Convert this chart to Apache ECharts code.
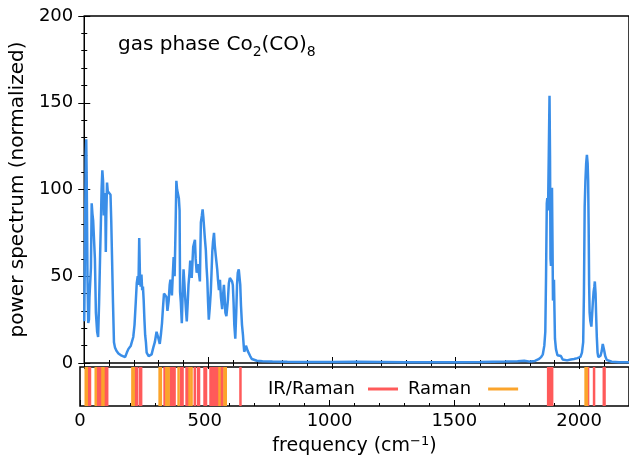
<!DOCTYPE html>
<html>
<head>
<meta charset="utf-8">
<script src="https://cdn.jsdelivr.net/npm/echarts@6/dist/echarts.min.js"></script>
<style>
  html, body { margin: 0; padding: 0; background: #fff; }
  #chart { width: 629px; height: 460px; }
</style>
</head>
<body>
<div id="chart"></div>
<script>
// power spectrum
const freq = [
  0, 3, 6, 8, 10, 13, 16, 19, 21, 24, 27, 30, 33, 36, 40, 43, 47, 52, 56, 60,
  64, 67, 70, 73, 76, 79, 82, 85, 87, 89, 92, 95, 98, 102, 106, 109, 112, 116, 120, 124,
  130, 138, 145, 151, 158, 165, 172, 178, 183, 188, 193, 198, 203, 208, 212, 216, 219, 222, 225, 228,
  231, 234, 237, 240, 243, 246, 249, 252, 256, 260, 266, 272, 279, 285, 292, 298, 305, 310, 314, 318,
  322, 327, 332, 336, 341, 345, 348, 352, 354, 358, 361, 365, 369, 372, 375, 378, 382, 385, 387, 390,
  394, 397, 401, 404, 407, 411, 414, 418, 421, 425, 428, 431, 434, 437, 440, 443, 447, 450, 454, 457,
  460, 463, 467, 469, 471, 475, 478, 481, 484, 487, 491, 494, 497, 500, 503, 507, 511, 514, 517, 520,
  524, 527, 531, 534, 537, 540, 544, 548, 552, 557, 560, 564, 567, 570, 574, 577, 580, 584, 588, 593,
  597, 600, 603, 606, 610, 614, 617, 620, 624, 627, 630, 633, 637, 641, 644, 646, 650, 653, 657, 660,
  665, 670, 677, 685, 697, 720, 760, 820, 900, 1000, 1100, 1200, 1300, 1400, 1500, 1600, 1700, 1750, 1777, 1800,
  1820, 1835, 1845, 1852, 1858, 1862, 1865, 1868, 1870, 1873, 1876, 1879, 1881, 1883, 1885, 1887, 1889, 1891, 1893, 1895,
  1897, 1899, 1901, 1905, 1911, 1918, 1925, 1932, 1939, 1950, 1965, 1978, 1992, 2004, 2010, 2015, 2018, 2021, 2024, 2027,
  2030, 2033, 2035, 2037, 2039, 2041, 2044, 2048, 2051, 2054, 2057, 2060, 2062, 2065, 2067, 2070, 2073, 2076, 2080, 2085,
  2090, 2094, 2097, 2100, 2104, 2110, 2116, 2130, 2160, 2200
]
const power = [
  24, 70, 120, 129, 105, 50, 23, 25, 38, 37, 55, 92, 86, 82, 83, 60, 29, 18, 15, 35,
  62, 80, 100, 111, 105, 85, 98, 90, 64, 85, 104, 99, 100, 98, 97, 82, 62, 35, 12, 9,
  7, 5.5, 5, 4.2, 3.3, 3.4, 6, 8, 7, 10, 9, 15, 22, 35, 46, 50, 45, 72, 50, 44,
  51, 42, 44, 36, 25, 16, 12, 6, 5, 4, 4.5, 5, 9, 12, 18, 15, 11, 17, 23, 32,
  40, 41, 38, 30, 36, 45, 48, 42, 39, 52, 61, 50, 80, 105, 100, 101, 95, 88, 41, 35,
  23, 38, 54, 47, 39, 30, 24, 35, 45, 52, 59, 55, 49, 58, 67, 68, 71, 60, 52, 55,
  57, 52, 47, 65, 81, 85, 88.5, 84, 78, 72, 65, 55, 48, 35, 25, 32, 41, 52, 64, 70,
  75, 68, 62, 58, 54, 48, 42, 48, 38, 31, 38, 45, 38, 29, 27, 27, 36, 46, 49, 49,
  47, 45, 35, 22, 14, 30, 45, 52, 54, 55, 45, 33, 22, 16, 10, 6.5, 8, 10, 9, 7,
  6, 4, 2.3, 1.6, 1.3, 1.0, 0.8, 0.7, 0.6, 0.6, 0.7, 0.6, 0.5, 0.5, 0.5, 0.6, 0.8, 1.0, 1.3, 0.8,
  1.2, 2.2, 3.4, 5, 10, 18, 50, 92, 95, 88, 120, 154, 120, 60, 56, 80, 101, 70, 36, 40,
  48, 30, 14, 8, 4.5, 4.5, 4, 2, 1.2, 1.5, 2, 2.3, 2.8, 3.5, 6, 12, 40, 90, 105, 115,
  120, 115, 105, 80, 45, 29, 24, 21, 22, 35, 41, 44, 47, 40, 29, 15, 6, 3.4, 3.2, 4.2,
  7, 11, 10.5, 7, 4, 1.8, 1, 0.7, 0.5, 0.4
]

// mode positions for the lower strip
const irRaman = [
  31, 36, 40, 70, 75, 80, 85, 100, 105, 109, 222, 228, 240, 245, 339, 363, 368, 373, 379,
  405, 411, 427, 432, 460, 473, 477, 499, 505, 523, 528, 533, 538, 543, 548, 554, 566, 571,
  643, 1876, 1881, 1886, 1892, 2036, 2060, 2099, 2102
]
const raman = [
  23, 27, 63, 90, 94, 210, 215, 319, 324, 346, 351, 355, 395, 439, 447, 559, 579, 584, 2026, 2031
]

const FONT = 'DejaVu Sans'
const chart = echarts.init(document.getElementById('chart'))

const tick = { show: true, inside: true, length: 6, lineStyle: { color: '#000', width: 1 } }
const minor = { show: true, splitNumber: 5, length: 3, lineStyle: { color: '#000', width: 1 } }
const xBase = { type: 'value', min: 0, max: 2200, interval: 500, splitLine: { show: false }, axisLine: { show: false } }

const option = {
  animation: false,
  textStyle: { fontFamily: FONT },
  title: {
    text: '{a|gas phase Co}{s|2}{a|(CO)}{s|8}',
    left: 113,
    top: 26,
    textStyle: {
      fontWeight: 'normal',
      rich: {
        a: { fontFamily: FONT, fontSize: 20, fontWeight: 'normal', color: '#000', lineHeight: 28 },
        s: { fontFamily: FONT, fontSize: 14, fontWeight: 'normal', color: '#000', lineHeight: 13, verticalAlign: 'bottom' },
      },
    },
  },
  legend: [
    {
      data: ['IR/Raman'],
      left: 268,
      top: 380,
      icon: 'rect',
      itemWidth: 30,
      itemHeight: 3,
      align: 'right',
      padding: 0,
      textStyle: { fontFamily: FONT, fontSize: 18, color: '#000', padding: [0, 8, 0, 0] },
    },
    {
      data: ['Raman'],
      left: 408,
      top: 380,
      icon: 'rect',
      itemWidth: 30,
      itemHeight: 3,
      align: 'right',
      padding: 0,
      textStyle: { fontFamily: FONT, fontSize: 18, color: '#000', padding: [0, 12, 0, 0] },
    },
  ],
  grid: [
    { left: 80, right: -3, top: 16, bottom: 97, show: true, borderColor: '#000', borderWidth: 1.5 },
    { left: 80, right: -3, top: 367, bottom: 54, show: true, borderColor: '#000', borderWidth: 1.5 },
  ],
  xAxis: [
    { ...xBase, gridIndex: 0, position: 'bottom', axisLabel: { show: false }, axisTick: tick, minorTick: minor },
    { ...xBase, gridIndex: 0, position: 'top', axisLabel: { show: false }, axisTick: tick, minorTick: minor },
    {
      ...xBase,
      gridIndex: 1,
      position: 'bottom',
      axisTick: tick,
      minorTick: minor,
      axisLabel: {
        fontFamily: FONT,
        fontSize: 18,
        color: '#000',
        margin: 6,
        showMaxLabel: false,
        formatter: (v) => String(v),
      },
      name: '{a|frequency (cm}{p|−1}{a|)}',
      nameLocation: 'middle',
      nameGap: 29,
      nameTextStyle: {
        rich: {
          a: { fontFamily: FONT, fontSize: 19, color: '#000', lineHeight: 23 },
          p: { fontFamily: FONT, fontSize: 13, color: '#000', lineHeight: 13, verticalAlign: 'top' },
        },
      },
    },
  ],
  yAxis: [
    {
      type: 'value',
      gridIndex: 0,
      position: 'left',
      min: 0,
      max: 200,
      interval: 50,
      splitLine: { show: false },
      axisLine: { show: false },
      axisTick: tick,
      minorTick: minor,
      axisLabel: { fontFamily: FONT, fontSize: 18, color: '#000', margin: 11 },
      name: 'power spectrum (normalized)',
      nameLocation: 'middle',
      nameGap: 48,
      nameTextStyle: { fontFamily: FONT, fontSize: 20, color: '#000' },
    },
    {
      type: 'value',
      gridIndex: 0,
      position: 'right',
      min: 0,
      max: 200,
      interval: 50,
      splitLine: { show: false },
      axisLine: { show: false },
      axisLabel: { show: false },
      axisTick: tick,
      minorTick: minor,
    },
    {
      type: 'value',
      gridIndex: 1,
      min: 0,
      max: 1,
      show: false,
    },
  ],
  series: [
    {
      name: 'spectrum',
      type: 'line',
      xAxisIndex: 0,
      yAxisIndex: 0,
      data: freq.map((f, i) => [f, power[i]]),
      showSymbol: false,
      lineStyle: { color: '#3a8ee8', width: 2.5 },
      itemStyle: { color: '#3a8ee8' },
    },
    {
      name: 'IR/Raman',
      type: 'bar',
      xAxisIndex: 2,
      yAxisIndex: 2,
      data: irRaman.map((f) => [f, 1]),
      barWidth: 2.5,
      barGap: '-100%',
      itemStyle: { color: '#ff5a5a' },
    },
    {
      name: 'Raman',
      type: 'bar',
      xAxisIndex: 2,
      yAxisIndex: 2,
      data: raman.map((f) => [f, 1]),
      barWidth: 2.5,
      barGap: '-100%',
      itemStyle: { color: '#fba42c' },
    },
  ],
}

chart.setOption(option)
</script>
</body>
</html>
